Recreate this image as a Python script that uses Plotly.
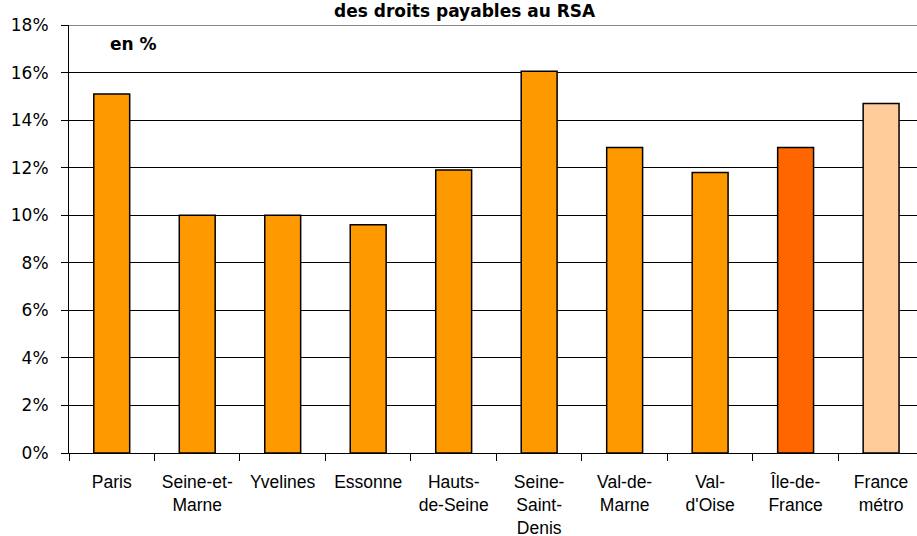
import plotly.graph_objects as go

categories = ["Paris", "Seine-et-<br>Marne", "Yvelines", "Essonne", "Hauts-<br>de-Seine",
              "Seine-<br>Saint-<br>Denis", "Val-de-<br>Marne", "Val-<br>d'Oise", "Île-de-<br>France", "France<br>métro"]
values = [15.1, 10.0, 10.0, 9.6, 11.9, 16.05, 12.85, 11.8, 12.85, 14.7]
colors = ["#FF9900"] * 8 + ["#FF6600", "#FFCC99"]
y_ticks = [0, 2, 4, 6, 8, 10, 12, 14, 16, 18]
y_tick_labels = [f"{v}%" for v in y_ticks]

fig = go.Figure(go.Bar(
    x=categories, y=values,
    marker=dict(color=colors, line=dict(color="black", width=1.5)),
))

fig.update_layout(
    width=917, height=536,
    margin=dict(l=69, r=0, t=25, b=83, autoexpand=False),
    plot_bgcolor="white", paper_bgcolor="white",
    bargap=0.58, showlegend=False,
    font=dict(family="Liberation Sans, Arial", color="black"),
)
fig.update_xaxes(
    type="category", range=[-0.5, 9.42], automargin=False,
    showline=True, linecolor="black", linewidth=1,
    ticks="outside", tickson="boundaries", ticklen=7, tickcolor="black",
    tickfont=dict(size=17.5, family="Liberation Sans, Arial"),
    ticklabelstandoff=13,
    showgrid=False,
)
fig.update_yaxes(
    range=[0, 18], tickvals=y_ticks, ticktext=y_tick_labels, automargin=False,
    showline=True, linecolor="black", linewidth=1,
    ticks="outside", ticklen=7, tickcolor="black",
    tickfont=dict(size=17, family="DejaVu Sans, Verdana"),
    ticklabelstandoff=9,
    showgrid=True, gridcolor="black", gridwidth=1.4,
    zeroline=False,
)
fig.add_shape(type="line", xref="paper", yref="y", x0=0, x1=1, y0=18, y1=18,
              line=dict(color="#888888", width=2))
fig.add_annotation(text="<b>en %</b>", xref="paper", yref="y", x=(108 - 69) / 848, y=17.2,
                   showarrow=False, xanchor="left",
                   font=dict(size=17, family="DejaVu Sans, Verdana"))
fig.add_annotation(text="<b>des droits payables au RSA</b>", xref="paper", yref="paper",
                   x=(465 - 69) / 848, y=1 + (25 - 11) / 428, yanchor="middle",
                   showarrow=False, font=dict(size=17, family="DejaVu Sans"))

fig.write_html("out.html", config={"displayModeBar": False},
               post_script="document.body.style.margin='0';")
